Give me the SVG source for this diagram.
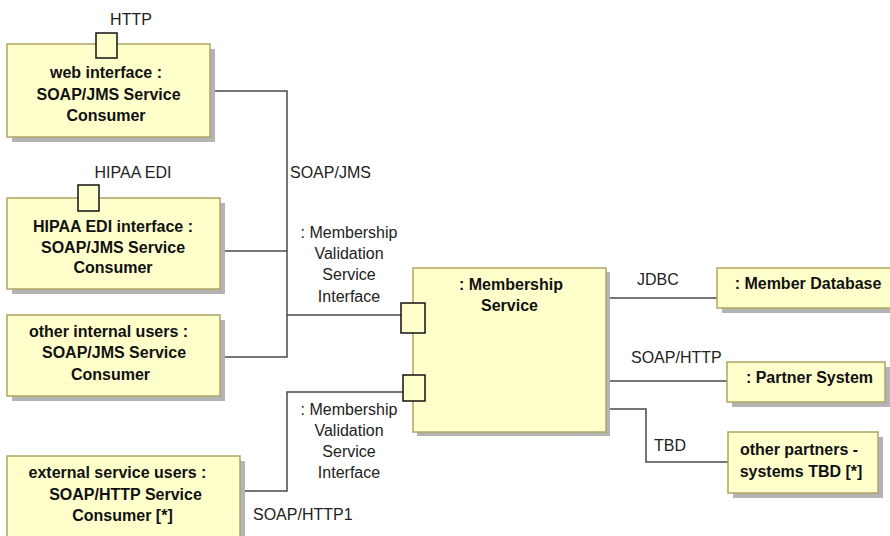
<svg xmlns="http://www.w3.org/2000/svg" width="890" height="536" viewBox="0 0 890 536">
<style>
.box{fill:#ffffcc;stroke:#b0a464;stroke-width:1.5}
.sh{fill:#b4b4b4}
.port{fill:#ffffcc;stroke:#111;stroke-width:1.5}
.b{font-family:"Liberation Sans",Arial,sans-serif;font-size:16px;font-weight:bold;fill:#111;text-anchor:middle}
.t{font-family:"Liberation Sans",Arial,sans-serif;font-size:16px;fill:#222}
.c{text-anchor:middle}
.ln{fill:none;stroke:#4a4a4a;stroke-width:1.5}
</style>
<rect width="890" height="536" fill="#fff"/>
<g id="connectors">
<polyline class="ln" points="210,91 287,91 287,357 220,357"/>
<line class="ln" x1="220" y1="251" x2="287" y2="251"/>
<line class="ln" x1="287" y1="315" x2="401" y2="315"/>
<polyline class="ln" points="240,491 287,491 287,392 403,392"/>
<line class="ln" x1="606" y1="298" x2="717" y2="298"/>
<line class="ln" x1="606" y1="381" x2="727" y2="381"/>
<polyline class="ln" points="606,409 646,409 646,462 728,462"/>
<text class="t" x="290" y="178">SOAP/JMS</text>
<text class="t c" x="349" y="238">: Membership</text>
<text class="t c" x="349" y="259">Validation</text>
<text class="t c" x="349" y="280">Service</text>
<text class="t c" x="349" y="302">Interface</text>
<text class="t c" x="349" y="415">: Membership</text>
<text class="t c" x="349" y="436">Validation</text>
<text class="t c" x="349" y="457">Service</text>
<text class="t c" x="349" y="478">Interface</text>
<text class="t" x="253" y="520">SOAP/HTTP1</text>
<text class="t" x="637" y="285">JDBC</text>
<text class="t" x="631" y="363">SOAP/HTTP</text>
<text class="t" x="654" y="451">TBD</text>
</g>
<g id="web-interface">
<rect class="sh" x="12" y="49" width="203" height="93"/>
<rect class="box" x="7" y="44" width="203" height="93"/>
<rect class="port" x="96" y="33" width="21" height="25"/>
<text class="t c" x="131" y="25">HTTP</text>
<text class="b" x="106" y="78">web interface :</text>
<text class="b" x="108.5" y="100">SOAP/JMS Service</text>
<text class="b" x="106" y="121">Consumer</text>
</g>
<g id="hipaa-interface">
<rect class="sh" x="12" y="203" width="213" height="91"/>
<rect class="box" x="7" y="198" width="213" height="91"/>
<rect class="port" x="78" y="185" width="21" height="26"/>
<text class="t c" x="133" y="178">HIPAA EDI</text>
<text class="b" x="113" y="232">HIPAA EDI interface :</text>
<text class="b" x="113" y="253">SOAP/JMS Service</text>
<text class="b" x="113" y="273">Consumer</text>
</g>
<g id="other-internal">
<rect class="sh" x="12" y="320" width="213" height="81"/>
<rect class="box" x="7" y="315" width="213" height="81"/>
<text class="b" x="108.5" y="337">other internal users :</text>
<text class="b" x="114" y="358">SOAP/JMS Service</text>
<text class="b" x="110.5" y="380">Consumer</text>
</g>
<g id="external-users">
<rect class="sh" x="12" y="461" width="233" height="90"/>
<rect class="box" x="7" y="456" width="233" height="90"/>
<text class="b" x="117.5" y="478">external service users :</text>
<text class="b" x="125.5" y="500">SOAP/HTTP Service</text>
<text class="b" x="122.5" y="521">Consumer [*]</text>
</g>
<g id="membership-service">
<rect class="sh" x="417" y="272" width="193" height="164"/>
<rect class="box" x="413" y="268" width="193" height="164"/>
<rect class="port" x="401" y="303" width="24" height="30"/>
<rect class="port" x="403" y="375" width="22" height="26"/>
<text class="b" x="511" y="290">: Membership</text>
<text class="b" x="509.5" y="311">Service</text>
</g>
<g id="member-database">
<rect class="sh" x="722" y="273" width="178" height="40"/>
<rect class="box" x="717" y="268" width="178" height="40"/>
<text class="b" x="808" y="289">: Member Database</text>
</g>
<g id="partner-system">
<rect class="sh" x="732" y="367" width="158" height="40"/>
<rect class="box" x="727" y="362" width="158" height="40"/>
<text class="b" x="809.5" y="383">: Partner System</text>
</g>
<g id="other-partners">
<rect class="sh" x="733" y="437" width="150" height="61"/>
<rect class="box" x="728" y="432" width="150" height="61"/>
<text class="b" x="799" y="455">other partners -</text>
<text class="b" x="801" y="477">systems TBD [*]</text>
</g>
</svg>
